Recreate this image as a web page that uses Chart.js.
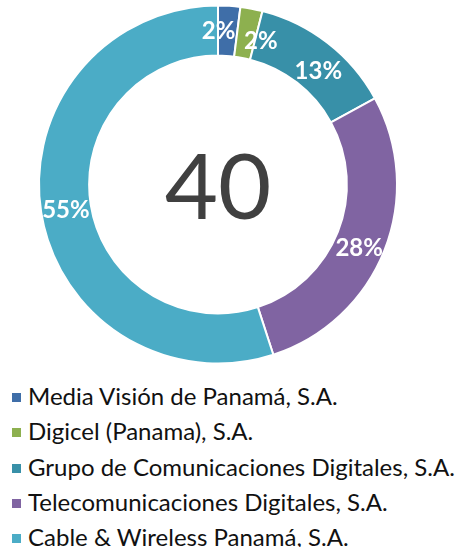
<!DOCTYPE html>
<html lang="es">
<head>
<meta charset="utf-8">
<script src="https://cdn.jsdelivr.net/npm/chart.js@4.4.1/dist/chart.umd.min.js"></script>
<style>
    body {
        margin: 0;
        background: #fff;
        font-family: Lato, "Noto Sans", sans-serif;
    }
    #wrap {
        width: 463px;
        height: 378px;
        position: relative;
    }
    ul#legend {
        list-style: none;
        margin: 0;
        padding: 0 0 0 12px;
    }
    ul#legend li {
        font-size: 24px;
        color: #111;
        height: 35.3px;
        line-height: 35.3px;
        white-space: nowrap;
    }
    ul#legend li span {
        display: inline-block;
        width: 9px;
        height: 9px;
        margin-right: 7px;
        vertical-align: 3px;
    }
</style>
</head>
<body>
<div id="wrap"><canvas id="myChart"></canvas></div>
<ul id="legend"></ul>

<script>
// data
var empresas = ["Media Visión de Panamá, S.A.", "Digicel (Panama), S.A.",
    "Grupo de Comunicaciones Digitales, S.A.", "Telecomunicaciones Digitales, S.A.",
    "Cable & Wireless Panamá, S.A."];
var porcentajes = [2, 2, 13, 28, 55];
var totalCentro = "40";
var colores = ["#3f6ea8", "#8db04f", "#3890a8", "#8064a2", "#4bacc6"];
// nudges so the small labels don't sit on each other (like the original)
var desplaz = [[-9, 0], [14, 8], [6, 8], [-2, 7], [0, 2]];

// labels inside the ring + number in the middle
var textos = {
    id: "textos",
    afterDatasetsDraw: function(c) {
        var ctx = c.ctx;
        var meta = c.getDatasetMeta(0);
        ctx.save();
        ctx.textAlign = "center";
        ctx.textBaseline = "middle";
        ctx.fillStyle = "#fff";
        ctx.font = "bold 24px Lato";
        meta.data.forEach(function(arc, i) {
            var mid = (arc.startAngle + arc.endAngle) / 2;
            var r = (arc.innerRadius + arc.outerRadius) / 2;
            ctx.fillText(porcentajes[i] + "%",
                arc.x + Math.cos(mid) * r + desplaz[i][0],
                arc.y + Math.sin(mid) * r + desplaz[i][1]);
        });
        var a = meta.data[0];
        ctx.fillStyle = "#404040";
        ctx.font = "92px Lato";
        ctx.fillText(totalCentro, a.x, a.y + 5);
        ctx.restore();
    }
};

var ctx = document.getElementById("myChart").getContext("2d");
var myChart = new Chart(ctx, {
    type: "doughnut",
    data: {
        labels: empresas,
        datasets: [{
            data: porcentajes,
            backgroundColor: colores,
            borderColor: "#fff",
            borderWidth: 2
        }]
    },
    options: {
        responsive: true,
        maintainAspectRatio: false,
        animation: false,
        cutout: "72%",
        layout: { padding: { left: 38, right: 65, top: 4, bottom: 13 } },
        plugins: {
            legend: { display: false },
            tooltip: { enabled: false }
        }
    },
    plugins: [textos]
});

var ul = document.getElementById("legend");
empresas.forEach(function(nombre, i) {
    var li = document.createElement("li");
    var sq = document.createElement("span");
    sq.style.background = colores[i];
    li.appendChild(sq);
    li.appendChild(document.createTextNode(nombre));
    ul.appendChild(li);
});
</script>
</body>
</html>
